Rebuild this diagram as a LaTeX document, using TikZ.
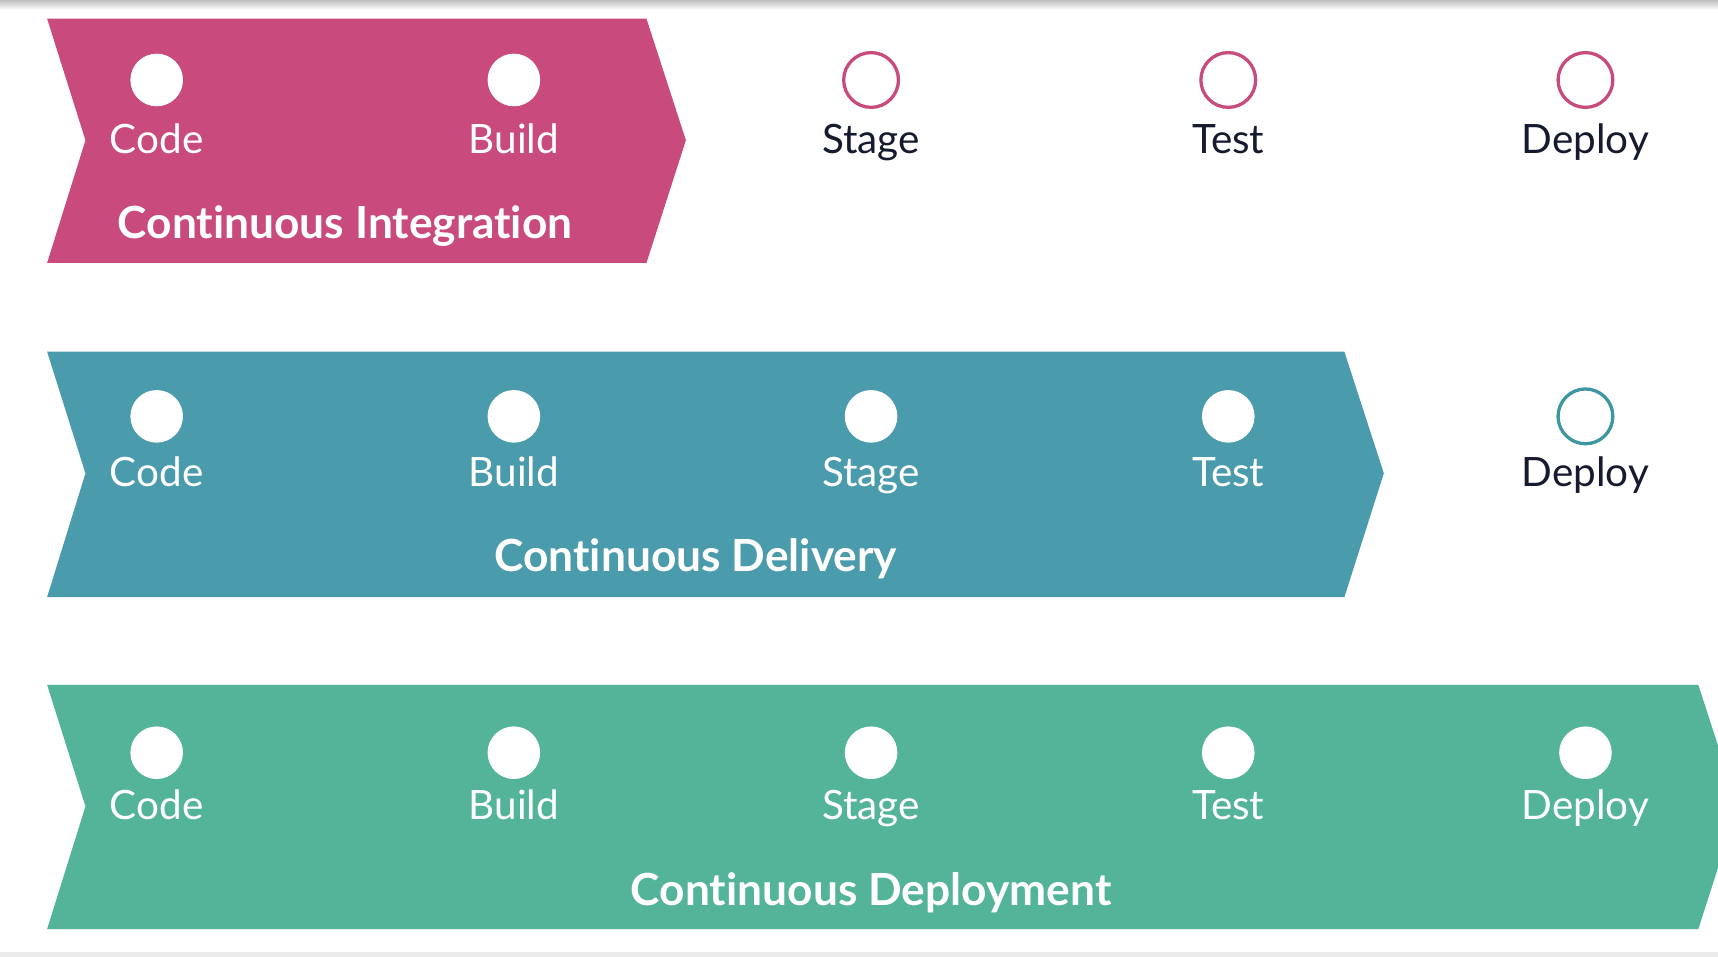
\documentclass[tikz,border=0pt]{standalone}
\usepackage{fontspec}
\setmainfont{Lato}[Ligatures=NoCommon]
\usetikzlibrary{positioning}
\definecolor{cipink}{RGB}{201,74,124}
\definecolor{cdblue}{RGB}{74,155,172}
\definecolor{cdgreen}{RGB}{83,180,154}
\definecolor{cdoutline}{RGB}{62,150,160}
\definecolor{inkdark}{RGB}{22,26,46}
\tikzstyle{stepdone} = [circle, fill=white, minimum size=0.96cm, inner sep=0pt]
\tikzstyle{steptodo} = [circle, draw=cipink, line width=0.06cm, fill=white, minimum size=1.0cm, inner sep=0pt]
\tikzstyle{steplabel} = [font=\fontsize{21}{25}\selectfont, text height=0.7em, text depth=0.25em, inner sep=0pt, text=white]
\tikzstyle{bandtitle} = [font=\fontsize{23}{27}\selectfont\bfseries, inner sep=0pt, text=white, anchor=base]

\begin{document}
\begin{tikzpicture}[x=0.2mm, y=-0.2mm, node distance=6.52cm]
\useasboundingbox (0,0) rectangle (1568,873);
\fill[white] (0,0) rectangle (1568,873);
\shade[top color=black!25, bottom color=white] (0,0) rectangle (1568,9);
\fill[black!8] (0,869) rectangle (1568,873);
\clip (0,0) rectangle (1568,873);

% Bands
\fill[cipink] (43,17) -- (590,17) -- (626,128) -- (590,240) -- (43,240) -- (78,128) -- cycle;
\fill[cdblue] (43,321) -- (1227,321) -- (1263,432) -- (1227,545) -- (43,545) -- (78,432) -- cycle;
\fill[cdgreen] (43,625) -- (1550,625) -- (1586,736) -- (1550,848) -- (43,848) -- (78,736) -- cycle;

% Continuous Integration
\node (ci_code) [stepdone] at (143,73) {};
\node (ci_build) [stepdone, right of=ci_code] {};
\node (ci_stage) [steptodo, right of=ci_build] {};
\node (ci_test) [steptodo, right of=ci_stage] {};
\node (ci_deploy) [steptodo, right of=ci_test] {};
\node (ci_code_l) [steplabel, below=0.6cm of ci_code] {Code};
\node (ci_build_l) [steplabel, below=0.6cm of ci_build] {Build};
\node (ci_stage_l) [steplabel, below=0.56cm of ci_stage, text=inkdark] {Stage};
\node (ci_test_l) [steplabel, below=0.56cm of ci_test, text=inkdark] {Test};
\node (ci_deploy_l) [steplabel, below=0.56cm of ci_deploy, text=inkdark] {Deploy};
\node (ci_title) [bandtitle] at (315,218) {Continuous Integration};

% Continuous Delivery
\node (cd_code) [stepdone] at (143,380) {};
\node (cd_build) [stepdone, right of=cd_code] {};
\node (cd_stage) [stepdone, right of=cd_build] {};
\node (cd_test) [stepdone, right of=cd_stage] {};
\node (cd_deploy) [steptodo, draw=cdoutline, right of=cd_test] {};
\node (cd_code_l) [steplabel, below=0.54cm of cd_code] {Code};
\node (cd_build_l) [steplabel, below=0.54cm of cd_build] {Build};
\node (cd_stage_l) [steplabel, below=0.54cm of cd_stage] {Stage};
\node (cd_test_l) [steplabel, below=0.54cm of cd_test] {Test};
\node (cd_deploy_l) [steplabel, below=0.5cm of cd_deploy, text=inkdark] {Deploy};
\node (cd_title) [bandtitle] at (635,522) {Continuous Delivery};

% Continuous Deployment
\node (cp_code) [stepdone] at (143,687) {};
\node (cp_build) [stepdone, right of=cp_code] {};
\node (cp_stage) [stepdone, right of=cp_build] {};
\node (cp_test) [stepdone, right of=cp_stage] {};
\node (cp_deploy) [stepdone, right of=cp_test] {};
\node (cp_code_l) [steplabel, below=0.48cm of cp_code] {Code};
\node (cp_build_l) [steplabel, below=0.48cm of cp_build] {Build};
\node (cp_stage_l) [steplabel, below=0.48cm of cp_stage] {Stage};
\node (cp_test_l) [steplabel, below=0.48cm of cp_test] {Test};
\node (cp_deploy_l) [steplabel, below=0.48cm of cp_deploy] {Deploy};
\node (cp_title) [bandtitle] at (795,826) {Continuous Deployment};
\end{tikzpicture}
\end{document}
